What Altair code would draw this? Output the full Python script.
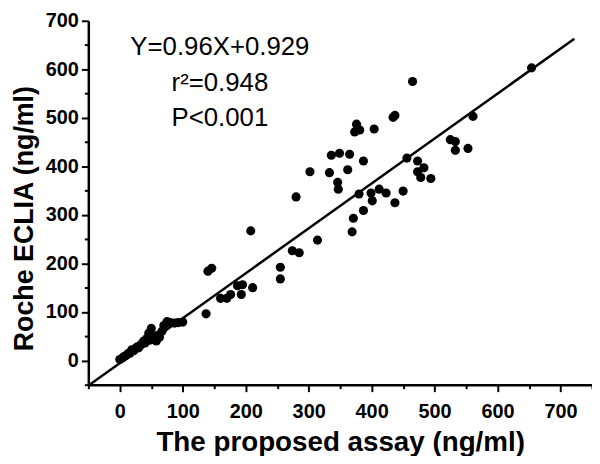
import altair as alt
import pandas as pd

# Proposed assay (x) vs Roche ECLIA (y), ng/ml
assay_x = [0, 4, 7, 10, 13, 16, 19, 22, 25, 28, 30, 33, 36, 38, 40, 43, 46, 48, 50, 52,
           55, 58, 60, 63, 67, 70, 75, 80, 87, 93, 100,
           137, 140, 146, 160, 170, 176, 187, 193, 195, 208, 211, 255, 255, 274, 285, 280,
           302, 314, 333, 336, 346, 347, 349, 362, 365, 369, 371, 373, 376, 380, 381, 387,
           387, 399, 401, 404, 412, 423, 434, 437, 437, 450, 456, 465, 473, 473, 478, 483,
           494, 525, 533, 533, 553, 561, 654]
eclia_y = [2, 5, 8, 10, 14, 15, 22, 20, 25, 28, 26, 32, 35, 40, 36, 45, 56, 42, 66, 50,
           44, 40, 52, 48, 60, 72, 80, 78, 77, 78, 79,
           96, 184, 190, 128, 128, 136, 154, 136, 156, 267, 150, 192, 168, 226, 222, 337,
           389, 248, 387, 423, 367, 353, 427, 393, 425, 265, 293, 471, 487, 343, 475, 411,
           309, 345, 329, 477, 353, 345, 501, 505, 325, 349, 417, 575, 411, 389, 377, 397,
           375, 455, 451, 433, 437, 503, 603]

# fitted line as drawn (end points)
fit_x = [-48, 722]
fit_y = [-50, 663]

# annotation texts and their anchor positions (data units)
ann_text = ["Y=0.96X+0.929", "r\u00b2=0.948", "P<0.001"]
ann_x = [159, 159, 159]
ann_y = [629, 555, 483]

x_major = list(range(0, 701, 100))
x_minor = list(range(-50, 751, 100))
y_major = list(range(0, 701, 100))
y_minor = list(range(-50, 651, 100))

pts = pd.DataFrame({"x": assay_x, "y": eclia_y})
fit = pd.DataFrame({"x": fit_x, "y": fit_y})
ann = pd.DataFrame({"t": ann_text, "x": ann_x, "y": ann_y})

FONT = "Liberation Sans"

xscale = alt.Scale(domain=[-50, 750], nice=False, zero=False)
yscale = alt.Scale(domain=[-50, 700], nice=False, zero=False)

common = dict(tickWidth=2, tickColor="black", grid=False, labelFlush=False,
              labelOverlap=False)

xaxis = alt.Axis(
    values=x_major, orient="bottom",
    title="The proposed assay (ng/ml)",
    titleFont=FONT, titleFontSize=28, titleFontWeight="bold", titleColor="black",
    titleY=66, titleBaseline="alphabetic",
    labelFont=FONT, labelFontSize=20, labelFontWeight="bold", labelColor="black",
    labelPadding=10, tickSize=7,
    domainColor="black", domainWidth=2.5, **common,
)
yaxis = alt.Axis(
    values=y_major, orient="left",
    title="Roche ECLIA (ng/ml)",
    titleFont=FONT, titleFontSize=27, titleFontWeight="bold", titleColor="black",
    titleX=-56, titleY=199, titleBaseline="alphabetic", titleAngle=270,
    labelFont=FONT, labelFontSize=20, labelFontWeight="bold", labelColor="black",
    labelPadding=3, tickSize=7,
    domainColor="black", domainWidth=2.5, **common,
)
xaxis_minor = alt.Axis(values=x_minor, orient="bottom", title=None, labels=False,
                       domain=False, tickSize=4, **common)
yaxis_minor = alt.Axis(values=y_minor, orient="left", title=None, labels=False,
                       domain=False, tickSize=4, **common)

points = alt.Chart(pts).mark_circle(size=85, color="black", opacity=1).encode(
    x=alt.X("x:Q", scale=xscale, axis=xaxis),
    y=alt.Y("y:Q", scale=yscale, axis=yaxis),
)

line = alt.Chart(fit).mark_line(color="black", strokeWidth=2.5, clip=True).encode(
    x=alt.X("x:Q", scale=xscale, axis=xaxis_minor),
    y=alt.Y("y:Q", scale=yscale, axis=yaxis_minor),
)

texts = alt.Chart(ann).mark_text(
    font=FONT, fontSize=26, color="black", align="center", baseline="alphabetic"
).encode(
    x=alt.X("x:Q", scale=xscale, axis=None),
    y=alt.Y("y:Q", scale=yscale, axis=None),
    text="t:N",
)

chart = (
    alt.layer(line, points, texts)
    .resolve_axis(x="independent", y="independent")
    .properties(
        width=508,
        height=367,
        padding={"left": 81, "top": 11, "right": 0, "bottom": 70},
        autosize=alt.AutoSizeParams(type="none"),
        background="white",
    )
    .configure_view(stroke=None)
)

chart.save("out.html", embed_options={"renderer": "svg", "actions": False})
